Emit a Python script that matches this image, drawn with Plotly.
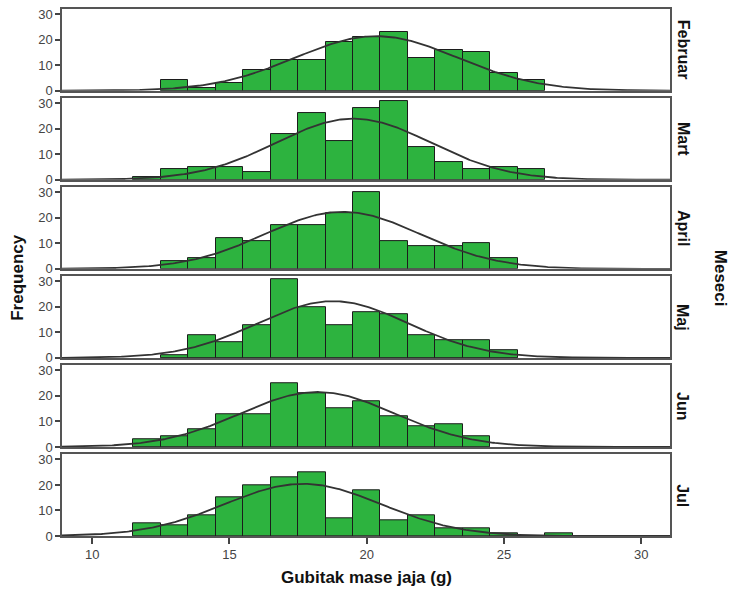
import numpy as np
import plotly.graph_objects as go
from plotly.subplots import make_subplots

# Egg mass loss (g), histogram counts per 1 g bin (bins centred on whole grams)
months = ["Februar", "Mart", "April", "Maj", "Jun", "Jul"]

feb_x = [13, 14, 15, 16, 17, 18, 19, 20, 21, 22, 23, 24, 25, 26]
feb_n = [4, 1, 3, 8, 12, 12, 19, 21, 23, 13, 16, 15, 7, 4]

mar_x = [12, 13, 14, 15, 16, 17, 18, 19, 20, 21, 22, 23, 24, 25, 26]
mar_n = [1, 4, 5, 5, 3, 18, 26, 15, 28, 31, 13, 7, 4, 5, 4]

apr_x = [13, 14, 15, 16, 17, 18, 19, 20, 21, 22, 23, 24, 25]
apr_n = [3, 4, 12, 11, 17, 17, 22, 30, 11, 9, 9, 10, 4]

maj_x = [13, 14, 15, 16, 17, 18, 19, 20, 21, 22, 23, 24, 25]
maj_n = [1, 9, 6, 13, 31, 20, 13, 18, 17, 9, 7, 7, 3]

jun_x = [12, 13, 14, 15, 16, 17, 18, 19, 20, 21, 22, 23, 24]
jun_n = [3, 4, 7, 13, 13, 25, 21, 15, 18, 12, 8, 9, 4]

jul_x = [12, 13, 14, 15, 16, 17, 18, 19, 20, 21, 22, 23, 24, 25, 26, 27]
jul_n = [5, 4, 8, 15, 20, 23, 25, 7, 18, 6, 8, 3, 3, 1, 0, 1]

series = [(feb_x, feb_n), (mar_x, mar_n), (apr_x, apr_n),
          (maj_x, maj_n), (jun_x, jun_n), (jul_x, jul_n)]

x_ticks = [10, 15, 20, 25, 30]
y_ticks = [0, 10, 20, 30]

X_RANGE = [8.9, 31.05]
Y_RANGE = [0, 32]
BAR_GREEN = "#2db33f"
TICK_FONT = dict(family="Liberation Sans, Arial, sans-serif", size=13, color="#444444")
BOLD = "Liberation Sans, Arial, sans-serif"

W, H = 731, 594
M_L, M_R, M_T, M_B = 62, 61, 7, 58
plot_h = H - M_T - M_B

fig = make_subplots(rows=6, cols=1, shared_xaxes=True,
                    vertical_spacing=7.4 / plot_h)

xs = np.linspace(X_RANGE[0], X_RANGE[1], 400)
for i, (bx, bn) in enumerate(series, start=1):
    bx_a = np.array(bx, dtype=float)
    bn_a = np.array(bn, dtype=float)
    fig.add_trace(go.Bar(x=bx, y=bn, width=1.0,
                         marker=dict(color=BAR_GREEN,
                                     line=dict(color="#1c1c1c", width=1)),
                         showlegend=False, hoverinfo="x+y"),
                  row=i, col=1)
    # fitted normal curve from the binned sample mean and SD
    total = bn_a.sum()
    mu = (bx_a * bn_a).sum() / total
    sd = np.sqrt(((bx_a - mu) ** 2 * bn_a).sum() / (total - 1))
    dens = total * np.exp(-0.5 * ((xs - mu) / sd) ** 2) / (sd * np.sqrt(2 * np.pi))
    fig.add_trace(go.Scatter(x=xs, y=dens, mode="lines",
                             line=dict(color="#333333", width=1.8),
                             showlegend=False, hoverinfo="skip"),
                  row=i, col=1)
    fig.update_yaxes(range=Y_RANGE, tickvals=y_ticks, ticks="outside",
                     ticklen=5, tickwidth=1.5, tickcolor="#444444",
                     tickfont=TICK_FONT, showgrid=False, zeroline=False,
                     showline=True, mirror=True, linecolor="#555555",
                     linewidth=1.5, fixedrange=True, row=i, col=1)
    fig.update_xaxes(range=X_RANGE, showgrid=False, zeroline=False,
                     showline=True, mirror=True, linecolor="#555555",
                     linewidth=1.5, row=i, col=1)
    # month label on the right of each panel
    dom = fig.layout["yaxis" if i == 1 else f"yaxis{i}"].domain
    fig.add_annotation(text=f"<b>{months[i - 1]}</b>", textangle=90,
                       xref="paper", yref="paper",
                       x=1 + 13 / (W - M_L - M_R), y=(dom[0] + dom[1]) / 2,
                       xanchor="center", yanchor="middle", showarrow=False,
                       font=dict(family=BOLD, size=16, color="#111111"))

fig.update_xaxes(tickvals=x_ticks, ticks="outside", ticklen=6, tickwidth=1.5,
                 tickcolor="#444444", tickfont=TICK_FONT, row=6, col=1)

fig.add_annotation(text="<b>Gubitak mase jaja (g)</b>", xref="paper", yref="paper",
                   x=0.5, y=-42 / plot_h, xanchor="center", yanchor="middle",
                   showarrow=False, font=dict(family=BOLD, size=17, color="#111111"))
fig.add_annotation(text="<b>Frequency</b>", textangle=-90, xref="paper", yref="paper",
                   x=-44 / (W - M_L - M_R), y=0.49, xanchor="center", yanchor="middle",
                   showarrow=False, font=dict(family=BOLD, size=17, color="#111111"))
fig.add_annotation(text="<b>Meseci</b>", textangle=90, xref="paper", yref="paper",
                   x=1 + 50 / (W - M_L - M_R), y=0.49, xanchor="center", yanchor="middle",
                   showarrow=False, font=dict(family=BOLD, size=17, color="#111111"))

fig.update_layout(width=W, height=H, bargap=0,
                  margin=dict(l=M_L, r=M_R, t=M_T, b=M_B),
                  paper_bgcolor="white", plot_bgcolor="white")

fig.write_html("out.html")
